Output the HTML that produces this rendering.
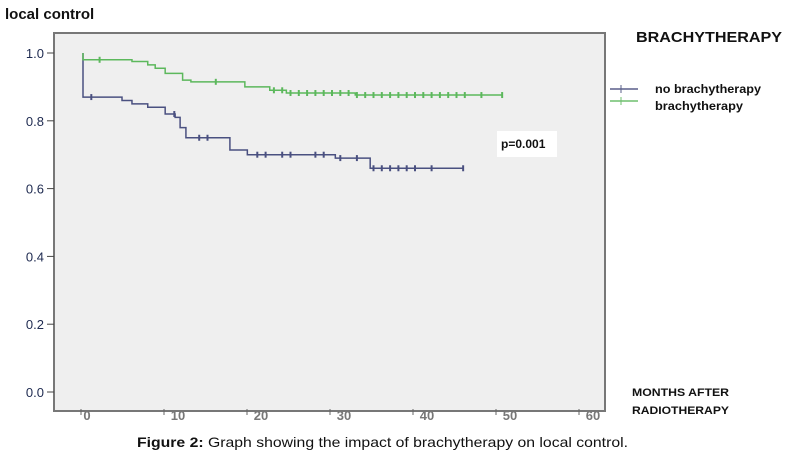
<!DOCTYPE html>
<html><head><meta charset="utf-8"><style>
body{margin:0;background:#fff;width:785px;height:457px;overflow:hidden;font-family:"Liberation Sans",Arial,sans-serif}
</style></head><body>
<svg width="785" height="457" xmlns="http://www.w3.org/2000/svg" font-family="Liberation Sans, Arial, sans-serif">
<text x="5" y="19" font-size="15" font-weight="bold" fill="#111">local control</text>
<rect x="54" y="33" width="551" height="378" fill="#efefef" stroke="#777" stroke-width="2"/>
<g id="axes"></g>
<g id="series"></g>
<rect x="497" y="131" width="60" height="26" fill="#fff"/>
<text x="501" y="148" font-size="12" font-weight="bold" fill="#111">p=0.001</text>
<text x="636" y="42" font-size="15" font-weight="bold" fill="#111" textLength="146" lengthAdjust="spacingAndGlyphs">BRACHYTHERAPY</text>
<g>
<line x1="610" y1="89" x2="638" y2="89" stroke="#5a5f8a" stroke-width="1.5"/><line x1="621" y1="85" x2="621" y2="93" stroke="#5a5f8a"/>
<text x="655" y="93" font-size="12" font-weight="bold" fill="#111" textLength="106" lengthAdjust="spacingAndGlyphs">no brachytherapy</text></g>
<g>
<line x1="610" y1="101" x2="638" y2="101" stroke="#6fbf6f" stroke-width="1.5"/><line x1="621" y1="97" x2="621" y2="105" stroke="#6fbf6f"/>
<text x="655" y="110" font-size="12" font-weight="bold" fill="#111" textLength="88" lengthAdjust="spacingAndGlyphs">brachytherapy</text></g>
<text x="632" y="396" font-size="11" font-weight="bold" fill="#111" textLength="97" lengthAdjust="spacingAndGlyphs">MONTHS AFTER</text>
<text x="632" y="414" font-size="11" font-weight="bold" fill="#111" textLength="97" lengthAdjust="spacingAndGlyphs">RADIOTHERAPY</text>
<text x="137" y="447" font-size="14" fill="#111" textLength="491" lengthAdjust="spacingAndGlyphs"><tspan font-weight="bold">Figure 2:</tspan> Graph showing the impact of brachytherapy on local control.</text>
</svg>
<script>
const xTicks=[0,10,20,30,40,50,60];
const yTicks=[0,0.2,0.4,0.6,0.8,1.0];
const yTickLabels=["0.0","0.2","0.4","0.6","0.8","1.0"];
const noBrachyTimes=[0,4.7,5.9,7.8,9.9,11.1,11.7,12.4,17.7,19.8,30.4,34.6,45.8];
const noBrachyValues=[0.87,0.86,0.85,0.84,0.82,0.81,0.78,0.75,0.714,0.70,0.69,0.66,0.66];
const noBrachyCensor=[1,11,14,15,21,22,24,25,28,29,31,33,35,36,37,38,39,40,42,45.8];
const brachyTimes=[0,5.9,7.8,8.7,9.9,12,13,19.5,22.5,24.5,32.8,50.5];
const brachyValues=[0.98,0.975,0.965,0.955,0.94,0.92,0.915,0.90,0.89,0.882,0.876,0.876];
const brachyCensor=[2,16,23,24,25,26,27,28,29,30,31,32,33,34,35,36,37,38,39,40,41,42,43,44,45,46,48,50.5];
const NS="http://www.w3.org/2000/svg";
const xs=t=>83+8.3*t, ys=v=>392-339*v;
const ax=document.getElementById('axes'), se=document.getElementById('series');
function mk(tag,attrs,parent){const e=document.createElementNS(NS,tag);for(const k in attrs)e.setAttribute(k,attrs[k]);parent.appendChild(e);return e;}
yTicks.forEach((v,i)=>{
  const l=mk('line',{x1:47,x2:54,y1:ys(v),y2:ys(v),stroke:'#444'},ax);
  
  
  const t=mk('text',{x:44,y:ys(v)+5,'font-size':13,'text-anchor':'end',fill:'#1e2a50'},ax);
  t.textContent=yTickLabels[i];
  
  
});
xTicks.forEach(v=>{
  const l=mk('line',{x1:xs(v)-2,x2:xs(v)-2,y1:409,y2:415,stroke:'#666'},ax);
  
  
  const t=mk('text',{x:xs(v)+(v?12:4),y:420,'font-size':13,'font-weight':'bold','text-anchor':'middle',fill:'#777'},ax);
  t.textContent=v;
  
  
});
function stepVal(times,vals,t){let v=vals[0];for(let i=0;i<times.length;i++){if(times[i]<=t)v=vals[i];}return v;}
function draw(times,vals,censor,color,name){
  let d=`M${xs(0)},${ys(1)}L${xs(0)},${ys(vals[0])}`;
  for(let i=1;i<times.length;i++){d+=`L${xs(times[i])},${ys(vals[i-1])}L${xs(times[i])},${ys(vals[i])}`;}
  const p=mk('path',{d:d,fill:'none',stroke:color,'stroke-width':1.5},se);
  
  
  censor.forEach(t=>{
    const y=ys(stepVal(times,vals,t));
    const c=mk('line',{x1:xs(t),x2:xs(t),y1:y-3,y2:y+3,stroke:color,'stroke-width':2},se);
    
    
  });
}
draw(noBrachyTimes,noBrachyValues,noBrachyCensor,'#4a5080','no-brachytherapy');
draw(brachyTimes,brachyValues,brachyCensor,'#5cb85c','brachytherapy');
</script>
</body></html>
